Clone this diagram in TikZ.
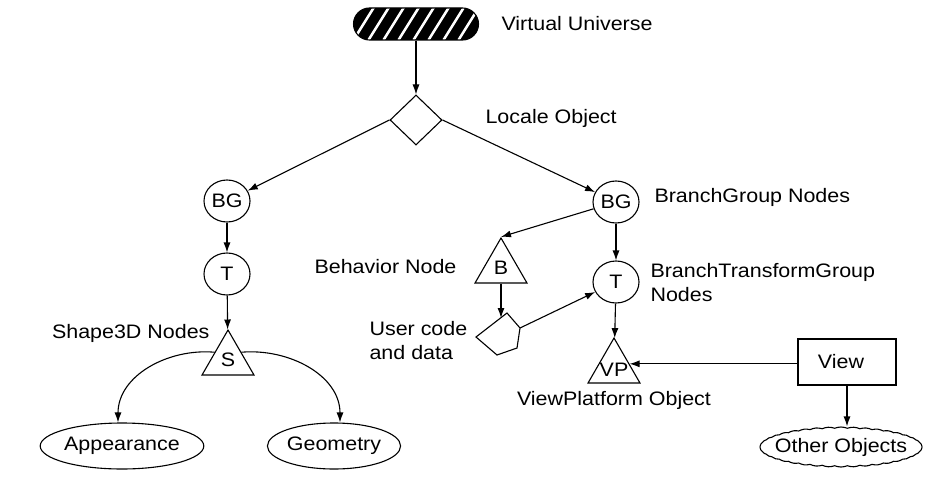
\documentclass[tikz,border=0pt]{standalone}
\usepackage{fontspec}
\setmainfont{Liberation Sans}[FakeStretch=1.1]
\usetikzlibrary{arrows.meta,shapes.geometric,shapes.misc,shapes.symbols}
\tikzset{
  every node/.style={font=\fontsize{19.5}{24}\selectfont},
  obj/.style={draw,line width=1.1pt,inner sep=0pt},
  grp/.style={obj,ellipse,minimum width=46pt,minimum height=42pt},
  leaf/.style={obj,regular polygon,regular polygon sides=3,minimum size=60pt},
  link/.style={line width=1.1pt,-{Latex[length=10pt,width=7pt]}},
}
\begin{document}
\begin{tikzpicture}[x=1pt,y=-1pt]
  \useasboundingbox (0,0) rectangle (939,487);
  %% universe and locale
  \node[obj,rounded rectangle,fill=black,minimum width=125pt,minimum height=32pt,
    path picture={\foreach \k in {-30,-15,...,140}
      \draw[white,line width=2.5pt] ([xshift=\k pt]path picture bounding box.south west) -- ++(58:60pt);}] (vu) at (416,24) {};
  \node[anchor=west] (vulab) at (498,24) {Virtual Universe};
  \node[obj,diamond,minimum width=52pt,minimum height=50pt] (loc) at (416,120) {};
  \node[anchor=west] (loclab) at (482,118) {Locale Object};
  \draw[link] (vu) -- (loc);
  %% content branch
  \node[grp] (bgl) at (227,201) {BG};
  \node[grp] (tl) at (227,274) {T};
  \node[leaf,label=center:S] (s) at (228,360) {};
  \node[anchor=east] (slab) at (213,333) {Shape3D Nodes};
  \node[obj,ellipse,minimum width=141pt,minimum height=46pt] (app) at (122,446) {Appearance};
  \node[obj,ellipse,minimum width=125pt,minimum height=46pt] (geo) at (334,446) {Geometry};
  \draw[link] (loc.west) -- (bgl);
  \draw[link] (bgl) -- (tl);
  \draw[link] (tl) -- (s);
  \draw[link] (s.150) to[out=175,in=90] ([xshift=-4pt]app.north);
  \draw[link] (s.30) to[out=5,in=90] ([xshift=6pt]geo.north);
  %% view branch
  \node[grp] (bgr) at (616,202) {BG};
  \node[anchor=west] (bgrlab) at (651,197) {BranchGroup Nodes};
  \node[grp] (tr) at (616,282) {T};
  \node[anchor=west,align=left] (trlab) at (647,283) {BranchTransformGroup\\Nodes};
  \node[leaf,label=center:B] (b) at (501,268) {};
  \node[anchor=east] (blab) at (460,267) {Behavior Node};
  \node[leaf,label={[yshift=-2pt]center:VP}] (vp) at (614,368) {};
  \node (vplab) at (614,400) {ViewPlatform Object};
  \node[obj,minimum width=98pt,minimum height=46pt] (view) at (847,362) {\hspace*{-12pt}View};
  \node[obj,cloud,cloud puffs=40,cloud puff arc=45,cloud ignores aspect,minimum width=162pt,minimum height=40pt,
    label=center:Other Objects] (other) at (841,447) {};
  %% user code
  \coordinate (uc1) at (476,337);
  \coordinate (uc2) at (507,313);
  \coordinate (uc3) at (520,328);
  \coordinate (uctop) at (501,318);
  \draw[line width=1.1pt] (uc1) -- (uc2) -- (uc3) -- (517,348) -- (497,355) -- cycle;
  \node[anchor=west,align=left] (uclab) at (366,341) {User code\\and data};
  \draw[link] (loc.east) -- (bgr);
  \draw[link] (bgr) -- (tr);
  \draw[link] (bgr) -- (b.corner 1);
  \draw[link] (b.south) -- (uctop);
  \draw[link] (uc3) -- (tr);
  \draw[link] (tr) -- (vp);
  \draw[link] (view.west |- vp.15) -- (vp.15);
  \draw[link] (view.south) -- (view.south |- other.north);
\end{tikzpicture}
\end{document}
